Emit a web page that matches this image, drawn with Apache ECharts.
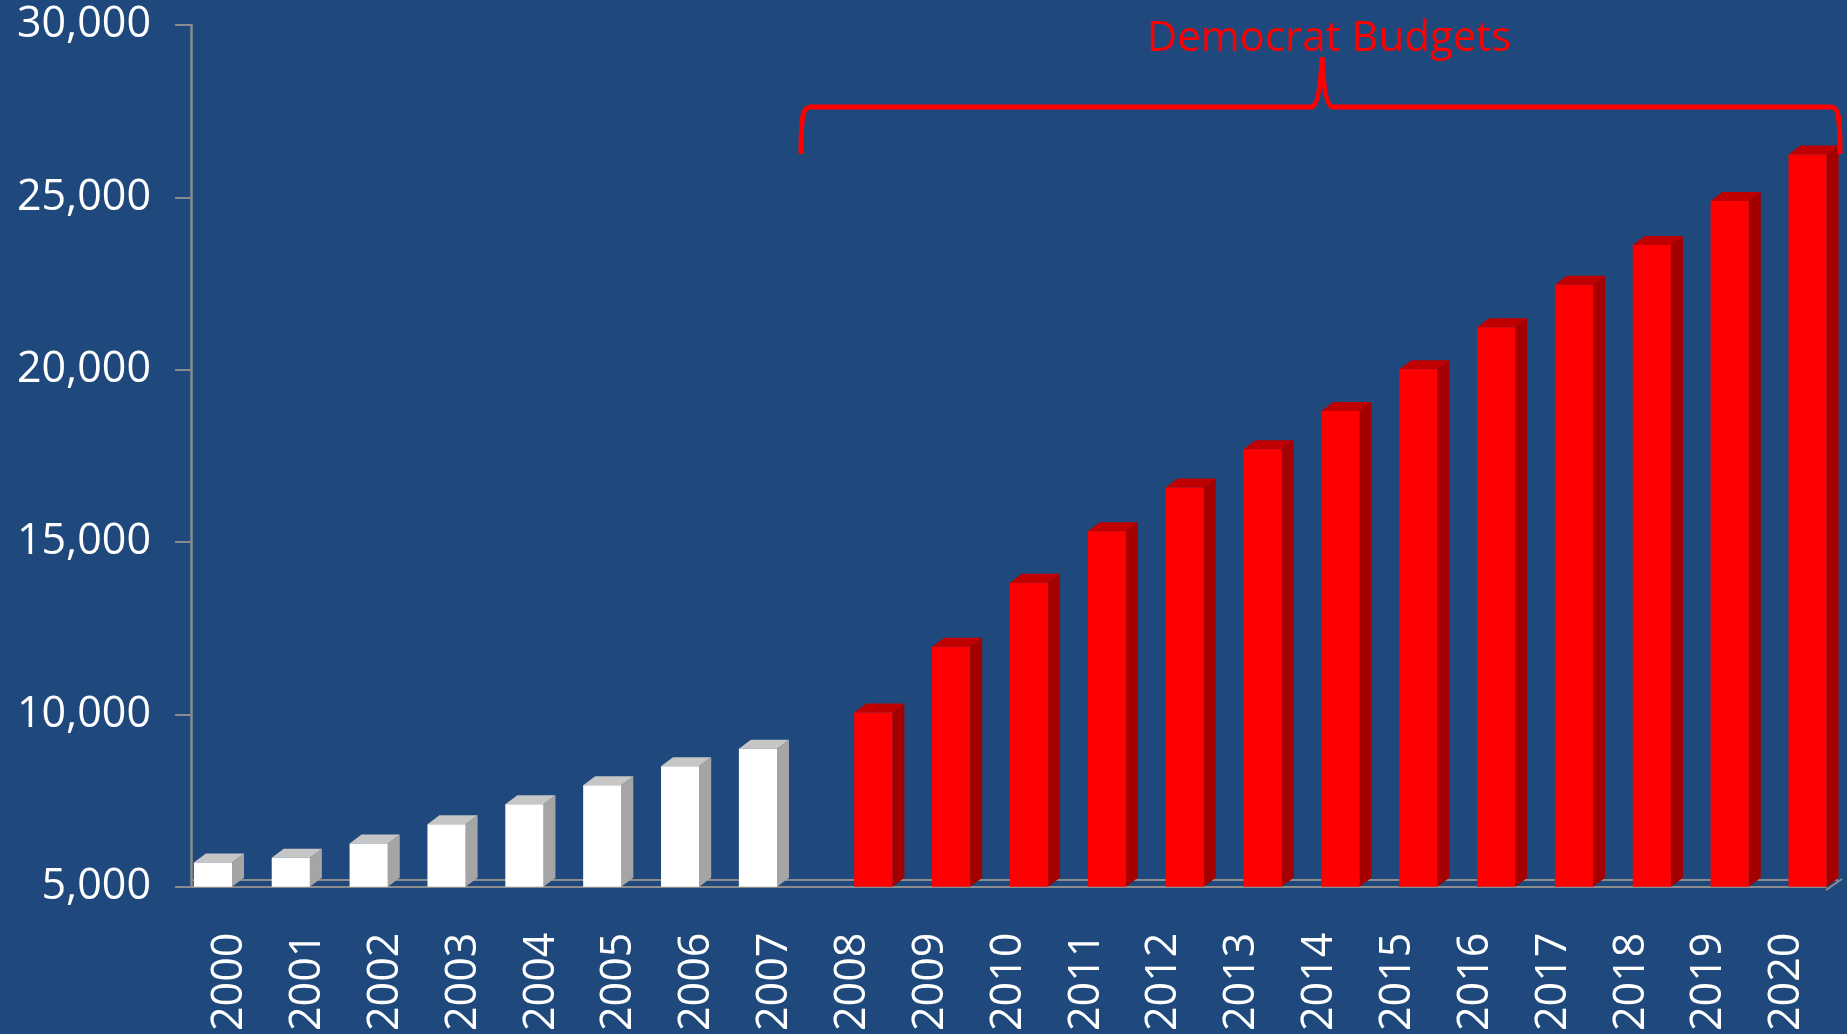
<!DOCTYPE html>
<html>
<head>
<meta charset="utf-8">
<script src="https://cdn.jsdelivr.net/npm/echarts@6/dist/echarts.min.js"></script>
<style>
  html, body { margin: 0; padding: 0; background: #1F497D; }
  #main { width: 1847px; height: 1034px; }
</style>
</head>
<body>
<div id="main"></div>
<script>
// years on the x axis
const years = ['2000', '2001', '2002', '2003', '2004', '2005', '2006', '2007', '2008', '2009',
  '2010', '2011', '2012', '2013', '2014', '2015', '2016', '2017', '2018', '2019', '2020'];
// white bars (2000-2007)
const earlyBudgets = [5700, 5840, 6250, 6810, 7390, 7940, 8490, 9000,
  null, null, null, null, null, null, null, null, null, null, null, null, null];
// red bars (2008-2020)
const democratBudgets = [null, null, null, null, null, null, null, null,
  10050, 11960, 13820, 15310, 16580, 17690, 18800, 20010, 21230, 22460, 23620, 24890, 26240];
// y axis ticks
const yMin = 5000;
const yMax = 30000;
const yStep = 5000;

const chart = echarts.init(document.getElementById('main'));

// depth of the fake 3d boxes
const dx = 12, dy = -9;

// draws a box: front face + top + side, from the axis scales
function boxItem(colors, shift) {
  return function (params, api) {
    const v = api.value(1);
    if (v == null || isNaN(v)) return;
    const top = api.coord([api.value(0), v]);
    const base = api.coord([api.value(0), yMin]);
    const band = api.size([1, 0])[0];
    const w = band * 0.49;
    const x0 = top[0] + shift * band;
    const x1 = x0 + w;
    const y0 = top[1], y1 = base[1];
    return {
      type: 'group',
      children: [
        { type: 'polygon', shape: { points: [[x1, y0], [x1 + dx, y0 + dy], [x1 + dx, y1 + dy], [x1, y1]] },
          style: { fill: colors.side } },
        { type: 'polygon', shape: { points: [[x0, y0], [x1, y0], [x1 + dx, y0 + dy], [x0 + dx, y0 + dy]] },
          style: { fill: colors.top } },
        { type: 'rect', shape: { x: x0, y: y0, width: w, height: y1 - y0 },
          style: { fill: colors.front } }
      ]
    };
  };
}

const toPairs = arr => arr.map((v, i) => [i, v]).filter(d => d[1] != null);

const axisFont = { color: '#ffffff', fontSize: 43, fontFamily: 'Open Sans' };

// brace pieces
const braceStyle = { fill: null, stroke: '#FF0000', lineWidth: 5 };
const brace = [
  { type: 'bezierCurve', shape: { x1: 801, y1: 154, cpx1: 801, cpy1: 114, cpx2: 803, cpy2: 107, x2: 811, y2: 107 } },
  { type: 'line', shape: { x1: 810, y1: 107, x2: 1313, y2: 107 } },
  { type: 'bezierCurve', shape: { x1: 1312, y1: 107, cpx1: 1320, cpy1: 104, x2: 1322, y2: 57 } },
  { type: 'bezierCurve', shape: { x1: 1322, y1: 57, cpx1: 1324, cpy1: 104, x2: 1332, y2: 107 } },
  { type: 'line', shape: { x1: 1331, y1: 107, x2: 1832, y2: 107 } },
  { type: 'bezierCurve', shape: { x1: 1831, y1: 107, cpx1: 1838, cpy1: 107, cpx2: 1840, cpy2: 114, x2: 1840, y2: 154 } }
].map(el => Object.assign(el, { z: 5, style: braceStyle }));

const option = {
  backgroundColor: '#1F497D',
  animation: false,
  grid: { left: 191, right: 21, top: 25, bottom: 144 },
  xAxis: {
    type: 'category',
    data: years,
    axisLine: { lineStyle: { color: '#8C8C8C', width: 2 } },
    axisTick: { length: 15, lineStyle: { color: '#8C8C8C', width: 2 } },
    axisLabel: Object.assign({ rotate: 90, margin: 46, interval: 0 }, axisFont)
  },
  yAxis: {
    type: 'value',
    min: yMin,
    max: yMax,
    interval: yStep,
    splitLine: { show: false },
    axisLine: { show: true, lineStyle: { color: '#8C8C8C', width: 2.5 } },
    axisTick: { show: true, length: 16, lineStyle: { color: '#8C8C8C', width: 2 } },
    axisLabel: Object.assign({ margin: 40, formatter: v => v.toLocaleString('en-US') }, axisFont)
  },
  series: [
    {
      type: 'custom',
      name: 'early',
      renderItem: boxItem({ front: '#ffffff', top: '#C6C6C6', side: '#A5A5A5' }, -0.463),
      encode: { x: 0, y: 1 },
      data: toPairs(earlyBudgets),
      z: 3
    },
    {
      type: 'custom',
      name: 'Democrat Budgets',
      renderItem: boxItem({ front: '#FF0000', top: '#C00000', side: '#A50000' }, 0.018),
      encode: { x: 0, y: 1 },
      data: toPairs(democratBudgets),
      z: 3
    }
  ],
  graphic: [
    // back edge of the floor
    { type: 'line', z: 1, shape: { x1: 193, y1: 880, x2: 1838, y2: 880 },
      style: { stroke: '#8C8C8C', lineWidth: 2 } },
    { type: 'line', z: 1, shape: { x1: 1826, y1: 890, x2: 1842, y2: 879 },
      style: { stroke: '#8C8C8C', lineWidth: 2 } },
    ...brace,
    { type: 'text', z: 5, x: 1329, y: 18,
      style: { text: 'Democrat Budgets', fill: '#FF0000', font: '42px "Open Sans"', align: 'center', verticalAlign: 'top' } }
  ]
};

chart.setOption(option);
</script>
</body>
</html>
